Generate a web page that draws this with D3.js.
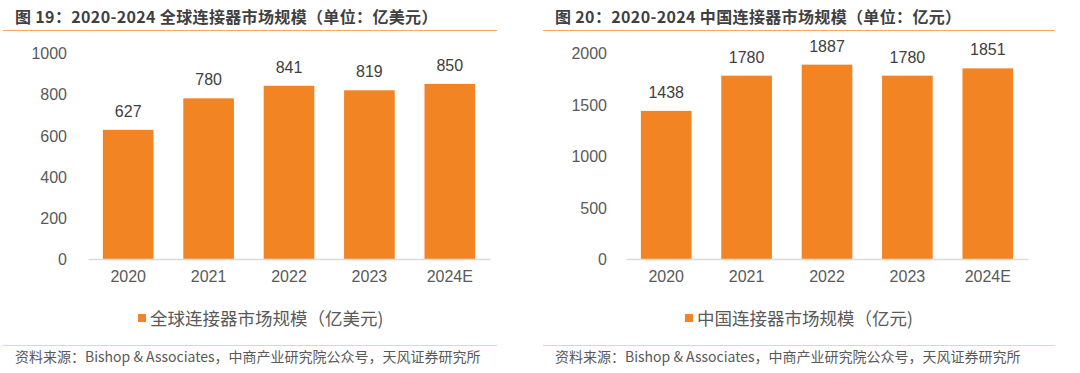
<!DOCTYPE html>
<html><head><meta charset="utf-8">
<script src="https://cdn.jsdelivr.net/npm/d3@7"></script>
<style>
html,body{margin:0;padding:0;background:#fff;}
svg{display:block;}
</style></head>
<body>
<svg id="c" width="1080" height="373"></svg>
<script>
const categories = ["2020","2021","2022","2023","2024E"];
const globalValues = [627,780,841,819,850];
const chinaValues = [1438,1780,1887,1780,1851];
const globalTicks = [0,200,400,600,800,1000];
const chinaTicks = [0,500,1000,1500,2000];
const titles = ["图 19：2020-2024 全球连接器市场规模（单位：亿美元）","图 20：2020-2024 中国连接器市场规模（单位：亿元）"];
const legends = ["全球连接器市场规模（亿美元)","中国连接器市场规模（亿元)"];
const sourceText = "资料来源：Bishop & Associates，中商产业研究院公众号，天风证券研究所";

const svg = d3.select("#c");
const barColor = "#F38424";
const fontLatin = "'Liberation Sans', Arial, 'Noto Sans CJK SC', sans-serif";
const fontCJK = "'Noto Sans CJK SC', 'Liberation Sans', sans-serif";

const panels = [
  {x0:0, lineEnd:497, axisX0:88, axisX1:490, labelX:67, values:globalValues, ticks:globalTicks, max:1000, title:titles[0], legend:legends[0], legX:138},
  {x0:540, lineEnd:1055, axisX0:626, axisX1:1028, labelX:607, values:chinaValues, ticks:chinaTicks, max:2000, title:titles[1], legend:legends[1], legX:685}
];

panels.forEach(p => {
  const g = svg.append("g");
  // title
  g.append("text").attr("x", p.x0+15).attr("y", 22.5)
    .attr("font-family", fontCJK).attr("font-weight", "bold").attr("font-size", 16)
    .attr("letter-spacing", 0.35)
    .attr("fill", "#404040").text(p.title);
  g.append("line").attr("x1", p.x0+3).attr("x2", p.lineEnd).attr("y1", 30.5).attr("y2", 30.5)
    .attr("stroke", "#F5A868").attr("stroke-width", 1.2);
  // bottom line + source
  g.append("line").attr("x1", p.x0+3).attr("x2", p.lineEnd).attr("y1", 345.5).attr("y2", 345.5)
    .attr("stroke", "#F9CFA9").attr("stroke-width", 1.2);
  g.append("text").attr("x", p.x0+15).attr("y", 362)
    .attr("font-family", fontCJK).attr("font-size", 14)
    .attr("fill", "#595959").text(sourceText);

  const x = d3.scaleBand().domain(categories).range([p.axisX0, p.axisX1]).paddingInner(0.37).paddingOuter(0.185);
  const y = d3.scaleLinear().domain([0, p.max]).range([259, 53]);

  // y axis labels
  const ya = d3.axisLeft(y).tickValues(p.ticks).tickFormat(d3.format("d")).tickSize(0).tickPadding(0);
  const yg = g.append("g").attr("transform", `translate(${p.labelX},0)`).call(ya);
  yg.select(".domain").remove();
  yg.selectAll("text").attr("font-family", fontLatin).attr("font-size", 16).attr("fill", "#595959").attr("dy", "0.35em");

  // bars
  g.selectAll("rect.bar").data(p.values).enter().append("rect")
    .attr("x", (d,i) => x(categories[i])).attr("width", x.bandwidth())
    .attr("y", d => y(d)).attr("height", d => y(0) - y(d))
    .attr("fill", barColor);

  // value labels
  g.selectAll("text.val").data(p.values).enter().append("text")
    .attr("x", (d,i) => x(categories[i]) + x.bandwidth()/2)
    .attr("y", d => y(d) - 13)
    .attr("text-anchor", "middle").attr("font-family", fontLatin).attr("font-size", 16)
    .attr("fill", "#404040").text(d => d);

  // x axis
  const xa = d3.axisBottom(x).tickSize(0).tickPadding(12);
  const xg = g.append("g").attr("transform", `translate(0,${y(0)})`).call(xa);
  xg.select(".domain").attr("stroke", "#d9d9d9").attr("stroke-width", 1.5);
  xg.selectAll("text").attr("font-family", fontLatin).attr("font-size", 16).attr("fill", "#595959");

  // legend
  g.append("rect").attr("x", p.legX).attr("y", 314).attr("width", 8).attr("height", 8).attr("fill", barColor);
  g.append("text").attr("x", p.legX+12).attr("y", 324.5)
    .attr("font-family", fontCJK).attr("font-size", 17.5)
    .attr("fill", "#595959").text(p.legend);
});
</script>
</body></html>
